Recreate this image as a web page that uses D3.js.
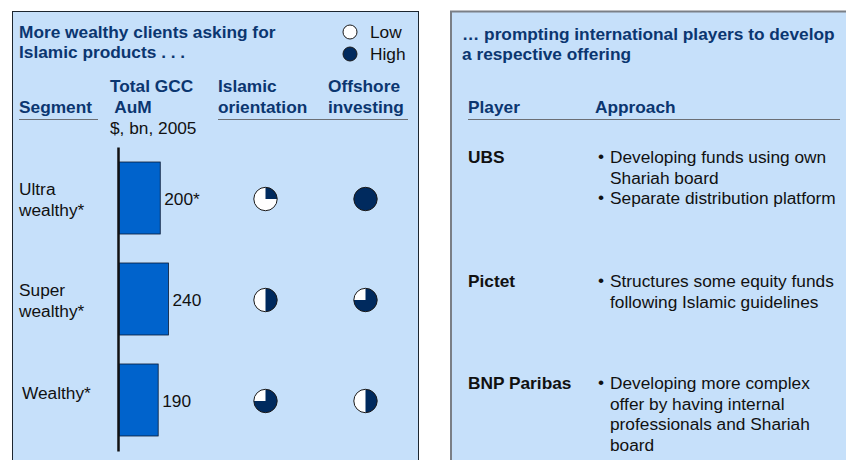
<!DOCTYPE html>
<html>
<head>
<meta charset="utf-8">
<script src="https://cdn.jsdelivr.net/npm/d3@7"></script>
<style>
  body { margin: 0; background: #fff; }
  svg { display: block; font-family: "Liberation Sans", Arial, sans-serif; }
</style>
</head>
<body>
<div id="chart"></div>
<script>
// Datos del panel izquierdo
const segments = ["Ultra wealthy*", "Super wealthy*", "Wealthy*"];
const segmentLines = [["Ultra", "wealthy*"], ["Super", "wealthy*"], ["Wealthy*"]];
const aum = [200, 240, 190];
const aumLabels = ["200*", "240", "190"];
const islamicOrientation = [0.25, 0.5, 0.75];
const offshoreInvesting = [1, 0.75, 0.5];

// Datos del panel derecho
const players = ["UBS", "Pictet", "BNP Paribas"];
const approaches = [
    [["Developing funds using own", "Shariah board"], ["Separate distribution platform"]],
    [["Structures some equity funds", "following Islamic guidelines"]],
    [["Developing more complex", "offer by having internal", "professionals and Shariah", "board"]]
];

const W = 846, H = 460;
const FS = 17.3;
const navy = "#0b3670";
const pieDark = "#002a5e";
const panelFill = "#c6e0fa";
const barFill = "#0063cc";

const svg = d3.select("#chart").append("svg")
    .attr("width", W)
    .attr("height", H);

// Paneles
svg.append("rect")
    .attr("x", 12.5).attr("y", 11.5)
    .attr("width", 406).attr("height", 460)
    .attr("fill", panelFill)
    .attr("stroke", "#1c2630").attr("stroke-width", 1);

svg.append("rect")
    .attr("x", 451).attr("y", 11.5)
    .attr("width", 410).attr("height", 460)
    .attr("fill", panelFill)
    .attr("stroke", "#7a7f86").attr("stroke-width", 2);

// ---------- Panel izquierdo ----------
const left = svg.append("g");

left.append("text")
    .attr("font-size", FS).attr("font-weight", "bold").attr("fill", navy)
    .selectAll("tspan")
    .data(["More wealthy clients asking for", "Islamic products . . ."])
    .enter().append("tspan")
    .attr("x", 19).attr("y", (d, i) => 38 + i * 20)
    .text(d => d);

// Leyenda
const legend = [{ label: "Low", v: 0 }, { label: "High", v: 1 }];
const lg = left.selectAll(".lg").data(legend).enter().append("g")
    .attr("transform", (d, i) => `translate(350, ${32 + i * 22})`);
lg.append("circle").attr("r", 7)
    .attr("fill", d => d.v ? pieDark : "#fff")
    .attr("stroke", "#1a1a1a").attr("stroke-width", 1);
lg.append("text").attr("x", 20).attr("y", 6)
    .attr("font-size", FS).attr("fill", "#111")
    .text(d => d.label);

// Encabezados de columnas
const headers = [
    { x: 19, lines: ["Segment"], top: 113 },
    { x: 110, lines: ["Total GCC", " AuM"], top: 92 },
    { x: 218, lines: ["Islamic", "orientation"], top: 92 },
    { x: 328, lines: ["Offshore", "investing"], top: 92 }
];
headers.forEach(h => {
    left.append("text")
        .attr("font-size", FS).attr("font-weight", "bold").attr("fill", navy)
        .attr("xml:space", "preserve")
        .selectAll("tspan").data(h.lines).enter().append("tspan")
        .attr("x", h.x).attr("y", (d, i) => h.top + i * 21)
        .text(d => d);
});
left.append("text")
    .attr("x", 110).attr("y", 134)
    .attr("font-size", FS).attr("fill", "#111")
    .text("$, bn, 2005");

left.append("line").attr("x1", 19).attr("x2", 98).attr("y1", 119.5).attr("y2", 119.5)
    .attr("stroke", "#6b6f75").attr("stroke-width", 1.2);
left.append("line").attr("x1", 218).attr("x2", 408).attr("y1", 119.5).attr("y2", 119.5)
    .attr("stroke", "#6b6f75").attr("stroke-width", 1.2);

// Escalas
const y = d3.scaleBand()
    .domain(segments)
    .range([147.5, 450.5])
    .paddingInner(0.287)
    .paddingOuter(0.1436);

const x = d3.scaleLinear()
    .domain([0, 240])
    .range([119, 168.5]);

// Etiquetas de segmento
segments.forEach((s, i) => {
    const lines = segmentLines[i];
    const cy = y(s) + y.bandwidth() / 2;
    left.append("text")
        .attr("font-size", FS).attr("fill", "#111")
        .selectAll("tspan").data(lines).enter().append("tspan")
        .attr("x", lines.length === 1 ? 22 : 19)
        .attr("y", (d, j) => lines.length === 1 ? cy - 1 : cy - 3 + j * 21)
        .text(d => d);
});

// Barras
left.selectAll(".bar")
    .data(segments)
    .enter().append("rect")
    .attr("x", x(0))
    .attr("y", d => y(d))
    .attr("width", (d, i) => x(aum[i]) - x(0))
    .attr("height", y.bandwidth())
    .attr("fill", barFill)
    .attr("stroke", "#0a1a33").attr("stroke-width", 0.8);

left.selectAll(".val")
    .data(segments)
    .enter().append("text")
    .attr("x", (d, i) => x(aum[i]) + 4)
    .attr("y", d => y(d) + y.bandwidth() / 2 + 7)
    .attr("font-size", FS).attr("fill", "#111")
    .text((d, i) => aumLabels[i]);

// Eje vertical
left.append("line")
    .attr("x1", x(0) - 0.5).attr("x2", x(0) - 0.5)
    .attr("y1", y.range()[0]).attr("y2", y.range()[1] + 1)
    .attr("stroke", "#111").attr("stroke-width", 2.5);

// Harvey balls
const R = 11.7;
const arc = d3.arc().innerRadius(0).outerRadius(R).startAngle(0);
const pieCols = [{ cx: 265.5, vals: islamicOrientation }, { cx: 365.5, vals: offshoreInvesting }];
pieCols.forEach(col => {
    const g = left.selectAll(null).data(segments).enter().append("g")
        .attr("transform", d => `translate(${col.cx}, ${y(d) + y.bandwidth() / 2 + 1})`);
    g.append("circle").attr("r", R).attr("fill", "#fff");
    g.append("path")
        .attr("d", (d, i) => arc({ endAngle: col.vals[i] * 2 * Math.PI }))
        .attr("fill", pieDark);
    g.append("circle").attr("r", R).attr("fill", "none")
        .attr("stroke", "#1a1a1a").attr("stroke-width", 1);
});

// ---------- Panel derecho ----------
const right = svg.append("g");

right.append("text")
    .attr("font-size", FS).attr("font-weight", "bold").attr("fill", navy)
    .selectAll("tspan")
    .data(["\u2026 prompting international players to develop", "a respective offering"])
    .enter().append("tspan")
    .attr("x", 462).attr("y", (d, i) => 40 + i * 20)
    .text(d => d);

right.append("text").attr("x", 468).attr("y", 113)
    .attr("font-size", FS).attr("font-weight", "bold").attr("fill", navy)
    .text("Player");
right.append("text").attr("x", 595).attr("y", 113)
    .attr("font-size", FS).attr("font-weight", "bold").attr("fill", navy)
    .text("Approach");
right.append("line").attr("x1", 468).attr("x2", 840).attr("y1", 119.5).attr("y2", 119.5)
    .attr("stroke", "#6b6f75").attr("stroke-width", 1.2);

const rowTop = [163, 287, 389];
const lineH = 20.5;
players.forEach((p, i) => {
    right.append("text").attr("x", 468).attr("y", rowTop[i])
        .attr("font-size", FS).attr("font-weight", "bold").attr("fill", "#111")
        .text(p);
    let k = 0;
    approaches[i].forEach(bullet => {
        right.append("text").attr("x", 598).attr("y", rowTop[i] + k * lineH - 1)
            .attr("font-size", FS).attr("fill", "#111")
            .text("\u2022");
        bullet.forEach(line => {
            right.append("text").attr("x", 610).attr("y", rowTop[i] + k * lineH)
                .attr("font-size", FS).attr("fill", "#111")
                .text(line);
            k++;
        });
    });
});
</script>
</body>
</html>
